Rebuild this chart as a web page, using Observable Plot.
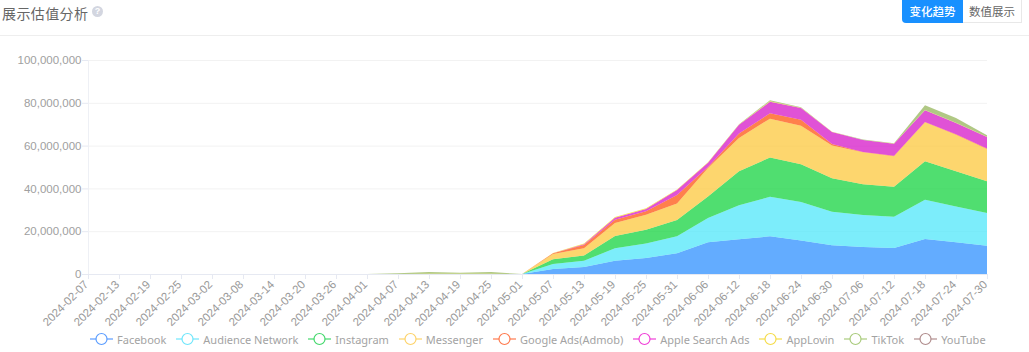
<!DOCTYPE html>
<html><head><meta charset="utf-8">
<script src="https://cdn.jsdelivr.net/npm/d3@7"></script>
<script src="https://cdn.jsdelivr.net/npm/@observablehq/plot@0.6"></script>
<style>
html,body{margin:0;padding:0;background:#fff;width:1029px;height:352px;overflow:hidden;position:relative;font-family:"Noto Sans CJK SC","Noto Sans",sans-serif}
#title{position:absolute;left:2px;top:3px;font-size:14px;letter-spacing:.4px;line-height:20px;color:#666}
#help{position:absolute;left:92px;top:6px;width:11px;height:11px;border-radius:50%;background:#d3d6e0;color:#fff;font-size:9px;font-weight:700;line-height:11px;text-align:center;font-family:"Liberation Sans"}
#rule{position:absolute;left:0;top:35px;width:1029px;height:1px;background:#eeeeee}
.btn{position:absolute;top:0;height:23px;line-height:23px;font-size:11.5px;text-align:center;box-sizing:border-box}
#b1{left:902px;width:61px;background:#1890ff;color:#fff;border-radius:0 0 0 4px;font-weight:500}
#b2{left:963px;width:59px;color:#666;background:#fff;border-right:1px solid #e8e8e8;border-bottom:1px solid #e8e8e8}
#chart{position:absolute;left:0;top:40px}
#legend{position:absolute;left:90px;top:331px;height:16px;display:flex;align-items:center;white-space:nowrap;font-family:"Noto Sans",sans-serif;font-size:11px;color:#a3a3a3}
#legend .it{display:flex;align-items:center;margin-right:10px}
#legend svg{margin-right:4px;display:block}
</style></head>
<body>
<div id="title">展示估值分析</div><div id="help">?</div><div id="rule"></div>
<div class="btn" id="b1">变化趋势</div><div class="btn" id="b2">数值展示</div>
<div id="chart"></div><div id="legend"></div>
<script>
const dates = ["2024-02-07","2024-02-13","2024-02-19","2024-02-25","2024-03-02","2024-03-08","2024-03-14","2024-03-20","2024-03-26","2024-04-01","2024-04-07","2024-04-13","2024-04-19","2024-04-25","2024-05-01","2024-05-07","2024-05-13","2024-05-19","2024-05-25","2024-05-31","2024-06-06","2024-06-12","2024-06-18","2024-06-24","2024-06-30","2024-07-06","2024-07-12","2024-07-18","2024-07-24","2024-07-30"];
const channels = ["Facebook","Audience Network","Instagram","Messenger","Google Ads(Admob)","Apple Search Ads","AppLovin","TikTok","YouTube"];
const lineColors = ["#5b9dff","#6fe6fb","#43d86c","#fdd36a","#ff7a4d","#f03fd8","#f5dc4a","#a9cb7c","#b08d8d"];
const fillColors = ["#2189ff","#44e6fa","#05d033","#fcc531","#ff4a00","#d308c4","#f5d800","#8fb050","#a06f6f"];
const zeros14 = [0,0,0,0,0,0,0,0,0,0,0,0,0,0];
// values in millions for the dates from 2024-05-01 on, preceded by the empty weeks
const facebook  = [...zeros14,0,2.3,3.3,6.2,7.5,9.7,14.8,16.2,17.6,15.7,13.4,12.6,12.2,16.4,14.8,13.2];
const audience  = [...zeros14,0,2.4,2.9,5.8,6.7,7.9,11.4,15.9,18.5,18.0,15.7,15.0,14.6,18.3,16.8,15.3];
const instagram = [...zeros14,0,2.2,2.5,5.8,6.5,7.6,10.0,15.9,18.3,17.6,15.6,14.3,14.0,18.0,16.4,14.8];
const messenger = [...zeros14,0,2.4,3.3,6.0,7.0,7.8,13.3,15.6,18.2,18.0,15.4,15.0,14.2,18.2,17.1,15.1];
const googleAds = [...zeros14,0,0.4,1.6,1.5,1.6,3.9,0.5,2.0,2.5,2.8,0.7,0.1,0.2,0.1,0.2,0.2];
const appleAds  = [...zeros14,0,0,0.3,1.0,1.1,2.3,2.0,4.2,5.4,5.5,5.6,5.6,5.7,5.5,5.3,5.4];
const appLovin  = [0,0,0,0,0,0,0,0,0,0,0.02,0.1,0.1,0.1,0,0.1,0.3,0.3,0.3,0.3,0.2,0.1,0.2,0.1,0.05,0.05,0.05,0.1,0.1,0.1];
const tikTok    = [0,0,0,0,0,0,0,0,0,0,0.3,0.8,0.5,0.8,0,0,0,0,0,0,0,0.1,0.5,0.2,0.05,0.15,0.15,2.2,2.2,0.7];
const youTube   = dates.map(() => 0);
const yTicks = [0,20000000,40000000,60000000,80000000,100000000];

const seriesValues = [facebook,audience,instagram,messenger,googleAds,appleAds,appLovin,tikTok,youTube];
const rows = channels.flatMap((c,i) => dates.map((d,j) => ({date:new Date(d),channel:c,value:seriesValues[i][j]*1e6})));
const tickDates = dates.map(d => new Date(d));

const plot = Plot.plot({
  width:1029, height:312, marginLeft:88, marginRight:42, marginTop:20, marginBottom:78,
  style:{background:"transparent",fontFamily:"'Liberation Sans',sans-serif",fontSize:"11.5px",color:"#a6a6a6"},
  x:{type:"utc",domain:[tickDates[0],tickDates[tickDates.length-1]]},
  y:{domain:[0,100000000]},
  color:{domain:channels,range:fillColors},
  marks:[
    Plot.ruleY(yTicks.slice(1),{stroke:"#f2f2f2",x1:tickDates[0],x2:tickDates[tickDates.length-1]}),
    Plot.areaY(rows,Plot.stackY({x:"date",y:"value",fill:"channel",order:channels,fillOpacity:0.7})),
    Plot.ruleY([0],{stroke:"#e6e9f2"}),
    Plot.ruleX([tickDates[0]],{stroke:"#eef0f5"}),
    Plot.axisY({ticks:yTicks,tickFormat:d3.format(","),tickSize:6,tickPadding:1,stroke:"#e6e9f2",label:null,fill:"#a0a0a0"}),
    Plot.axisX({ticks:tickDates,tickFormat:null,tickSize:5,stroke:"#e6e9f2",label:null,fill:"none"}),
    Plot.axisX({ticks:tickDates,tickFormat:d3.utcFormat("%Y-%m-%d"),tickRotate:-45,tickSize:0,tickPadding:8,dx:-2,label:null,fill:"#999999"})
  ]
});
document.getElementById("chart").appendChild(plot);

const legend = document.getElementById("legend");
channels.forEach((c,i) => {
  const it = document.createElement("div"); it.className = "it";
  it.innerHTML = `<svg width="23" height="14"><line x1="0" x2="23" y1="7" y2="7" stroke="${lineColors[i]}" stroke-width="1.2"/><circle cx="11.5" cy="7" r="5.5" fill="#fff" stroke="${lineColors[i]}" stroke-width="1.2"/></svg><span>${c}</span>`;
  legend.appendChild(it);
});
</script>
</body></html>
